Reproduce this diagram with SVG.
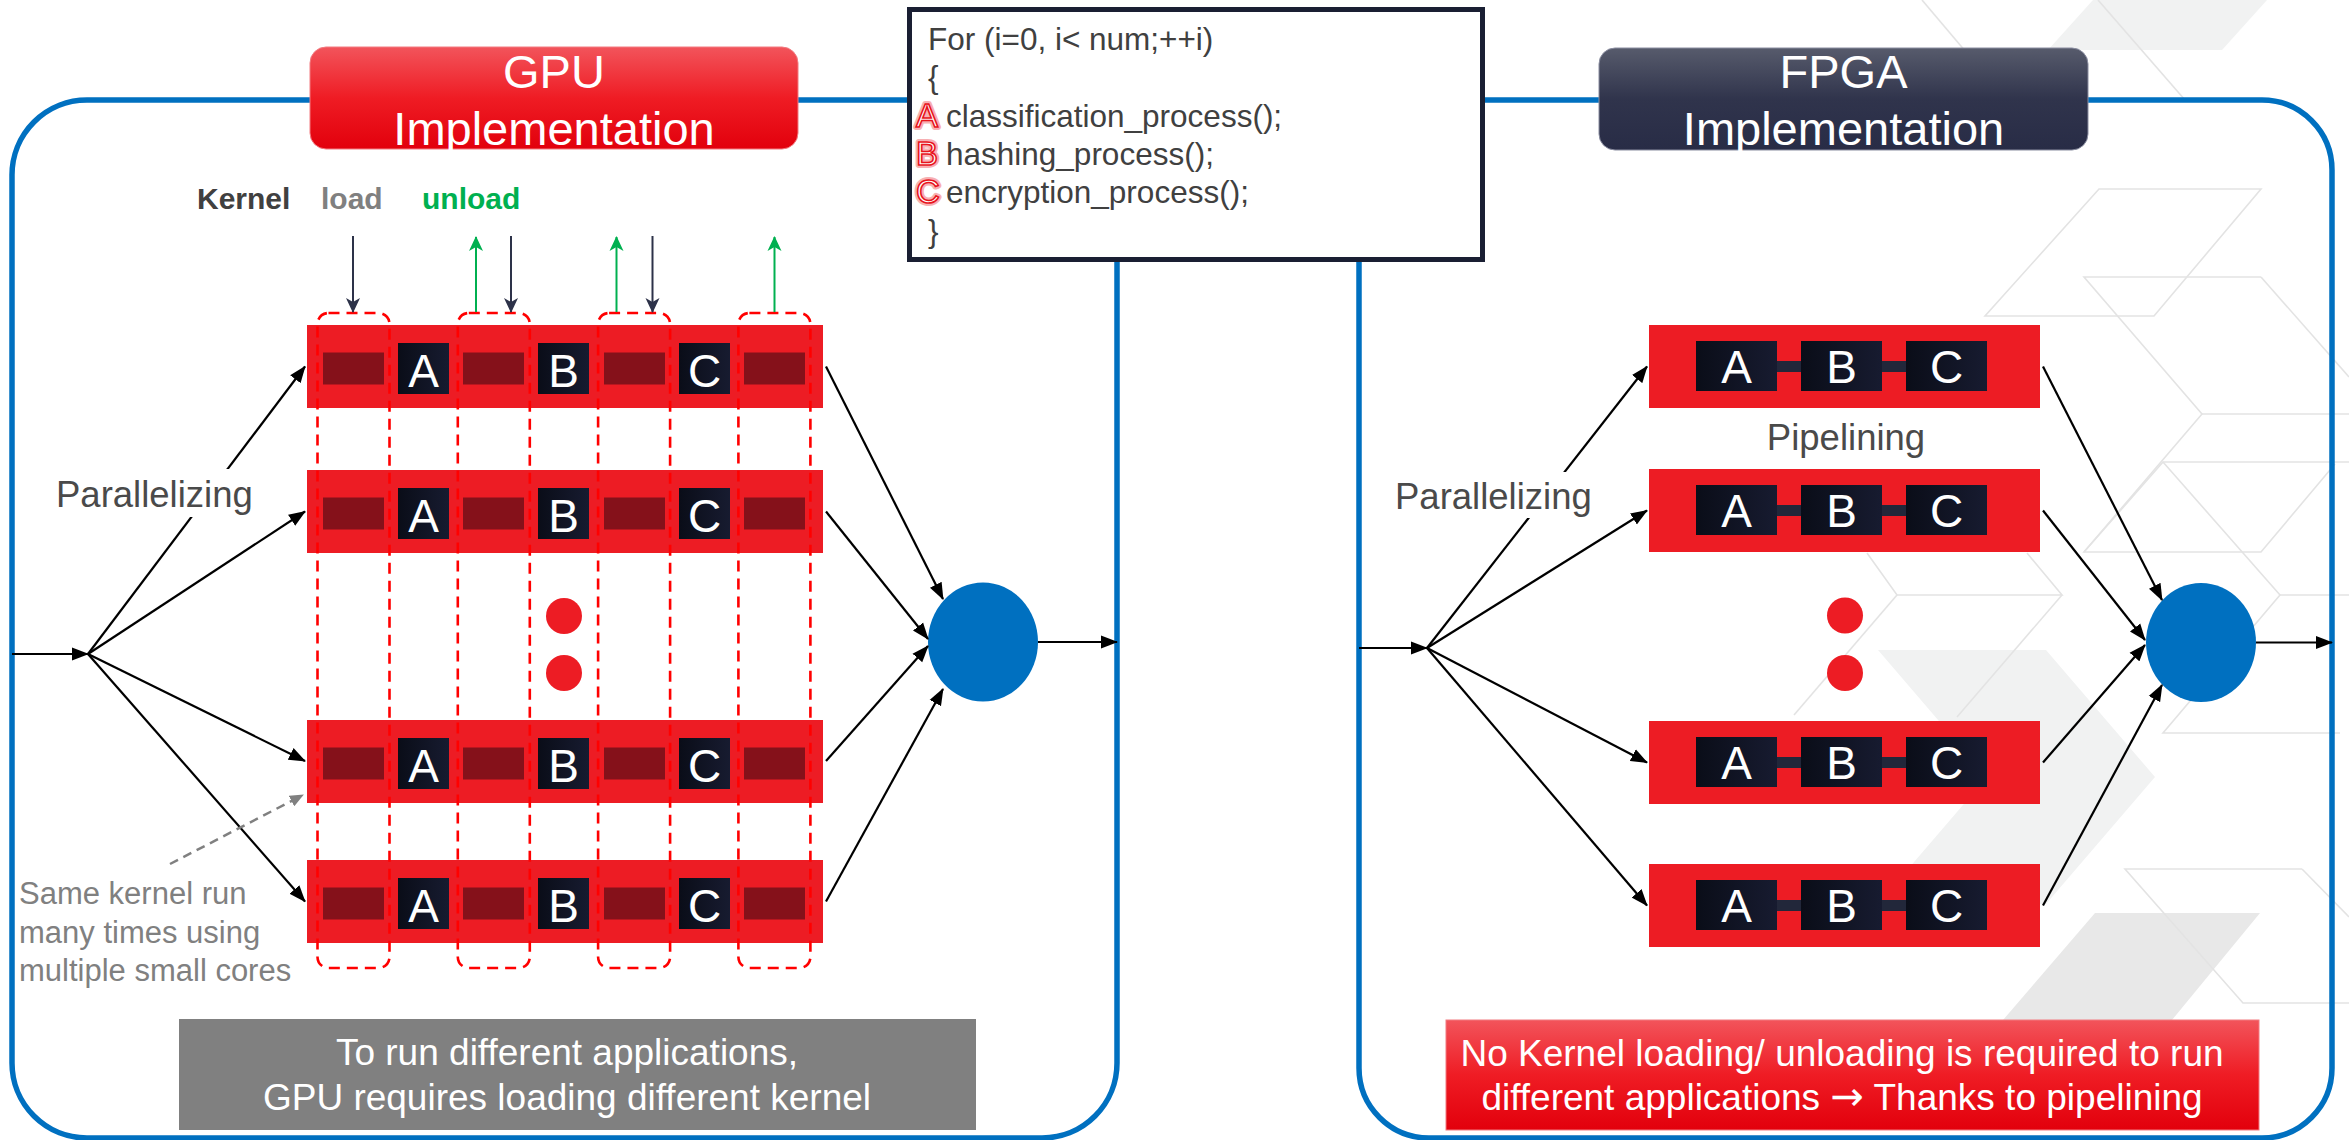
<svg xmlns="http://www.w3.org/2000/svg" width="2349" height="1140" viewBox="0 0 2349 1140">
<defs>
<linearGradient id="gRed" x1="0" y1="0" x2="0" y2="1">
<stop offset="0" stop-color="#f2545b"/>
<stop offset="0.5" stop-color="#ef1c24"/>
<stop offset="1" stop-color="#e2000c"/>
</linearGradient>
<linearGradient id="gDark" x1="0" y1="0" x2="0" y2="1">
<stop offset="0" stop-color="#575b6c"/>
<stop offset="0.5" stop-color="#30344c"/>
<stop offset="1" stop-color="#282c46"/>
</linearGradient>
<linearGradient id="gBox" x1="0" y1="0" x2="1" y2="0">
<stop offset="0" stop-color="#0a0d18"/>
<stop offset="1" stop-color="#171b30"/>
</linearGradient>
<marker id="aBlk" markerUnits="userSpaceOnUse" markerWidth="17" markerHeight="14" viewBox="0 0 17 14" refX="16" refY="7" orient="auto"><path d="M0,0.5 L17,7 L0,13.5 z" fill="#000"/></marker>
<marker id="aNavy" markerUnits="userSpaceOnUse" markerWidth="15" markerHeight="15" viewBox="0 0 15 15" refX="14" refY="7.5" orient="auto"><path d="M0,0.5 L15,7.5 L0,14.5 L4,7.5 z" fill="#2d3249"/></marker>
<marker id="aGrn" markerUnits="userSpaceOnUse" markerWidth="15" markerHeight="15" viewBox="0 0 15 15" refX="14" refY="7.5" orient="auto"><path d="M0,0.5 L15,7.5 L0,14.5 L4,7.5 z" fill="#00b050"/></marker>
<marker id="aGry" markerUnits="userSpaceOnUse" markerWidth="14" markerHeight="12" viewBox="0 0 14 12" refX="13" refY="6" orient="auto"><path d="M0,0 L14,6 L0,12 z" fill="#808080"/></marker>
</defs>
<style>
.t{font-family:"Liberation Sans",Arial,Helvetica,sans-serif}
.bgf{fill:#f1f2f2;stroke:none}
.bgl{fill:none;stroke:#e3e3e3;stroke-width:1.6}
.panel{fill:none;stroke:#0070c0;stroke-width:5.5}
.row{fill:#ed1c24}
.slot{fill:#85111a}
.kbox{fill:url(#gBox)}
.bar{fill:#22273a}
.kl{font-family:"Liberation Sans",Arial,sans-serif;font-size:46px;fill:#fff;text-anchor:middle}
.cap{fill:none;stroke:#ff0000;stroke-width:2.6;stroke-dasharray:11 7}
.ln{stroke:#000;stroke-width:2.2;fill:none;marker-end:url(#aBlk)}
.ttl{font-size:47px;fill:#fff;text-anchor:middle}
.code{font-size:31.5px;fill:#404040}
.abc{font-size:33px;fill:#fff;stroke:#e8141c;stroke-width:1.6}
.abcg{font-size:33px;fill:none;stroke:#f7b0b3;stroke-width:6;stroke-linejoin:round}
.lbl{font-size:36.5px;fill:#4a4a4a}
.note{font-size:31px;fill:#808080}
.btx{font-size:37px;fill:#fff;text-anchor:middle}
.dot{fill:#ed1c24}
.hub{fill:#0070c0}
</style>

<g id="background">
<polygon class="bgf" points="2093,0 2267,0 2222,50 2048,50"/>
<polygon class="bgf" points="1878,650 2046,650 2155,777 2046,904 1878,904 1987,777"/>
<polygon fill="#e8e8e8" points="2095,913 2260,913 2172,1020 2003,1020"/>
<line class="bgl" x1="1922" y1="0" x2="1966" y2="52"/>
<line class="bgl" x1="2098" y1="0" x2="2185" y2="100"/>
<polygon class="bgl" points="2099,189 2261,189 2154,316 1985,316"/>
<polyline class="bgl" points="2261,277 2084,277 2202,414 2084,552 2261,552 2335,464"/>
<line class="bgl" x1="2202" y1="414" x2="2349" y2="414"/>
<line class="bgl" x1="2261" y1="277" x2="2349" y2="377"/>
<polyline class="bgl" points="2349,462 2163,462 2084,552"/>
<polyline class="bgl" points="2163,462 2280,595 2163,733 2340,733"/>
<line class="bgl" x1="2280" y1="595" x2="2349" y2="595"/>
<polyline class="bgl" points="1867,553 1897,595 2062,595 2027,553"/>
<line class="bgl" x1="2062" y1="595" x2="1957" y2="717"/>
<line class="bgl" x1="1897" y1="595" x2="1794" y2="715"/>
<polyline class="bgl" points="2302,869 2125,869 2243,1003 2349,1003"/>
<line class="bgl" x1="2302" y1="869" x2="2349" y2="917"/>
</g>

<g id="panels">
<rect id="gpu-panel" class="panel" x="12" y="100" width="1105" height="1038" rx="75"/>
<rect id="fpga-panel" class="panel" x="1359" y="100" width="973" height="1038" rx="70"/>
</g>

<g id="gpu-title">
<rect x="310" y="47" width="488" height="102" rx="16" fill="url(#gRed)" stroke="#f27a80" stroke-width="1"/>
<text class="t ttl" x="554" y="87.5">GPU</text>
<text class="t ttl" x="554" y="145">Implementation</text>
</g>

<g id="fpga-title">
<rect x="1599" y="48" width="489" height="102" rx="16" fill="url(#gDark)" stroke="#8a8da0" stroke-width="1"/>
<text class="t ttl" x="1843.5" y="88">FPGA</text>
<text class="t ttl" x="1843.5" y="145">Implementation</text>
</g>

<g id="code-box">
<rect x="909.5" y="9.5" width="573" height="250" fill="#fff" stroke="#1a1f33" stroke-width="5"/>
<text class="t code" x="928" y="50">For (i=0, i&lt; num;++i)</text>
<text class="t code" x="928" y="88">{</text>
<text class="t abcg" x="916" y="127">A</text>
<text class="t abc" x="916" y="127">A</text>
<text class="t code" x="946" y="127">classification_process();</text>
<text class="t abcg" x="916" y="165">B</text>
<text class="t abc" x="916" y="165">B</text>
<text class="t code" x="946" y="165">hashing_process();</text>
<text class="t abcg" x="916" y="203">C</text>
<text class="t abc" x="916" y="203">C</text>
<text class="t code" x="946" y="203">encryption_process();</text>
<text class="t code" x="928" y="242">}</text>
</g>

<g id="kernel-legend" class="t" font-size="30" font-weight="bold">
<text x="197" y="209" fill="#404040">Kernel</text>
<text x="321" y="209" fill="#808080">load</text>
<text x="422" y="209" fill="#00b050">unload</text>
</g>

<g id="gpu-row-1" transform="translate(307,325)">
<rect class="row" width="516" height="83"/>
<rect class="slot" x="16" y="27.5" width="61" height="32"/><rect class="slot" x="156" y="27.5" width="61" height="32"/><rect class="slot" x="297" y="27.5" width="61" height="32"/><rect class="slot" x="437" y="27.5" width="61" height="32"/>
<rect class="kbox" x="91" y="18" width="51" height="51"/><rect class="kbox" x="231" y="18" width="51" height="51"/><rect class="kbox" x="372" y="18" width="51" height="51"/>
<text class="kl" x="116.5" y="61.5">A</text><text class="kl" x="256.5" y="61.5">B</text><text class="kl" x="397.5" y="61.5">C</text>
</g>
<g id="gpu-row-2" transform="translate(307,470)">
<rect class="row" width="516" height="83"/>
<rect class="slot" x="16" y="27.5" width="61" height="32"/><rect class="slot" x="156" y="27.5" width="61" height="32"/><rect class="slot" x="297" y="27.5" width="61" height="32"/><rect class="slot" x="437" y="27.5" width="61" height="32"/>
<rect class="kbox" x="91" y="18" width="51" height="51"/><rect class="kbox" x="231" y="18" width="51" height="51"/><rect class="kbox" x="372" y="18" width="51" height="51"/>
<text class="kl" x="116.5" y="61.5">A</text><text class="kl" x="256.5" y="61.5">B</text><text class="kl" x="397.5" y="61.5">C</text>
</g>
<g id="gpu-row-3" transform="translate(307,720)">
<rect class="row" width="516" height="83"/>
<rect class="slot" x="16" y="27.5" width="61" height="32"/><rect class="slot" x="156" y="27.5" width="61" height="32"/><rect class="slot" x="297" y="27.5" width="61" height="32"/><rect class="slot" x="437" y="27.5" width="61" height="32"/>
<rect class="kbox" x="91" y="18" width="51" height="51"/><rect class="kbox" x="231" y="18" width="51" height="51"/><rect class="kbox" x="372" y="18" width="51" height="51"/>
<text class="kl" x="116.5" y="61.5">A</text><text class="kl" x="256.5" y="61.5">B</text><text class="kl" x="397.5" y="61.5">C</text>
</g>
<g id="gpu-row-4" transform="translate(307,860)">
<rect class="row" width="516" height="83"/>
<rect class="slot" x="16" y="27.5" width="61" height="32"/><rect class="slot" x="156" y="27.5" width="61" height="32"/><rect class="slot" x="297" y="27.5" width="61" height="32"/><rect class="slot" x="437" y="27.5" width="61" height="32"/>
<rect class="kbox" x="91" y="18" width="51" height="51"/><rect class="kbox" x="231" y="18" width="51" height="51"/><rect class="kbox" x="372" y="18" width="51" height="51"/>
<text class="kl" x="116.5" y="61.5">A</text><text class="kl" x="256.5" y="61.5">B</text><text class="kl" x="397.5" y="61.5">C</text>
</g>

<g id="kernel-slots">
<rect class="cap" x="317.5" y="313" width="72" height="655" rx="11"/>
<rect class="cap" x="457.8" y="313" width="72" height="655" rx="11"/>
<rect class="cap" x="598.1" y="313" width="72" height="655" rx="11"/>
<rect class="cap" x="738.4" y="313" width="72" height="655" rx="11"/>
</g>

<g id="gpu-dots"><circle class="dot" cx="564" cy="616" r="18"/><circle class="dot" cx="564" cy="673" r="18"/></g>

<g id="fpga-row-1" transform="translate(1649,325)">
<rect class="row" width="391" height="83"/>
<rect class="bar" x="126" y="36" width="28" height="11"/><rect class="bar" x="231" y="36" width="28" height="11"/>
<rect class="kbox" x="47" y="16" width="81" height="50"/><rect class="kbox" x="152" y="16" width="81" height="50"/><rect class="kbox" x="257" y="16" width="81" height="50"/>
<text class="kl" x="87.5" y="58">A</text><text class="kl" x="192.5" y="58">B</text><text class="kl" x="297.5" y="58">C</text>
</g>
<g id="fpga-row-2" transform="translate(1649,469)">
<rect class="row" width="391" height="83"/>
<rect class="bar" x="126" y="36" width="28" height="11"/><rect class="bar" x="231" y="36" width="28" height="11"/>
<rect class="kbox" x="47" y="16" width="81" height="50"/><rect class="kbox" x="152" y="16" width="81" height="50"/><rect class="kbox" x="257" y="16" width="81" height="50"/>
<text class="kl" x="87.5" y="58">A</text><text class="kl" x="192.5" y="58">B</text><text class="kl" x="297.5" y="58">C</text>
</g>
<g id="fpga-row-3" transform="translate(1649,721)">
<rect class="row" width="391" height="83"/>
<rect class="bar" x="126" y="36" width="28" height="11"/><rect class="bar" x="231" y="36" width="28" height="11"/>
<rect class="kbox" x="47" y="16" width="81" height="50"/><rect class="kbox" x="152" y="16" width="81" height="50"/><rect class="kbox" x="257" y="16" width="81" height="50"/>
<text class="kl" x="87.5" y="58">A</text><text class="kl" x="192.5" y="58">B</text><text class="kl" x="297.5" y="58">C</text>
</g>
<g id="fpga-row-4" transform="translate(1649,864)">
<rect class="row" width="391" height="83"/>
<rect class="bar" x="126" y="36" width="28" height="11"/><rect class="bar" x="231" y="36" width="28" height="11"/>
<rect class="kbox" x="47" y="16" width="81" height="50"/><rect class="kbox" x="152" y="16" width="81" height="50"/><rect class="kbox" x="257" y="16" width="81" height="50"/>
<text class="kl" x="87.5" y="58">A</text><text class="kl" x="192.5" y="58">B</text><text class="kl" x="297.5" y="58">C</text>
</g>

<g id="fpga-dots"><circle class="dot" cx="1845" cy="615.5" r="18"/><circle class="dot" cx="1845" cy="673" r="18"/></g>

<g id="gpu-hub"><ellipse class="hub" cx="983" cy="642" rx="55" ry="59.5"/></g>
<g id="fpga-hub"><ellipse class="hub" cx="2201" cy="642.5" rx="55" ry="59.5"/></g>

<g id="connectors">
<line class="ln" x1="12" y1="654" x2="88" y2="654"/>
<line class="ln" x1="88" y1="654" x2="305" y2="366.5"/>
<line class="ln" x1="88" y1="654" x2="305" y2="511.5"/>
<line class="ln" x1="88" y1="654" x2="305" y2="761"/>
<line class="ln" x1="88" y1="654" x2="305" y2="901.5"/>
<line class="ln" x1="826" y1="366.5" x2="943" y2="599"/>
<line class="ln" x1="826" y1="511.5" x2="928" y2="639"/>
<line class="ln" x1="826" y1="761" x2="928" y2="646"/>
<line class="ln" x1="826" y1="901.5" x2="943" y2="689"/>
<line class="ln" x1="1038" y1="642" x2="1117" y2="642"/>
<line class="ln" x1="1359" y1="648" x2="1427" y2="648"/>
<line class="ln" x1="1427" y1="648" x2="1647" y2="366.5"/>
<line class="ln" x1="1427" y1="648" x2="1647" y2="510.5"/>
<line class="ln" x1="1427" y1="648" x2="1647" y2="762.5"/>
<line class="ln" x1="1427" y1="648" x2="1647" y2="905.5"/>
<line class="ln" x1="2043" y1="366.5" x2="2162" y2="600"/>
<line class="ln" x1="2043" y1="510.5" x2="2145" y2="640"/>
<line class="ln" x1="2043" y1="762.5" x2="2145" y2="645"/>
<line class="ln" x1="2043" y1="905.5" x2="2162" y2="685"/>
<line class="ln" x1="2256" y1="642.5" x2="2332" y2="642.5"/>
<g stroke="#2d3249" stroke-width="2" marker-end="url(#aNavy)">
<line x1="353" y1="236" x2="353" y2="312"/>
<line x1="511" y1="236" x2="511" y2="312"/>
<line x1="652.5" y1="236" x2="652.5" y2="312"/>
</g>
<g stroke="#00b050" stroke-width="2" marker-end="url(#aGrn)">
<line x1="476" y1="312" x2="476" y2="237"/>
<line x1="616.5" y1="312" x2="616.5" y2="237"/>
<line x1="774.5" y1="312" x2="774.5" y2="237"/>
</g>
<line x1="170" y1="864" x2="303" y2="795" stroke="#808080" stroke-width="2.5" stroke-dasharray="9 6" marker-end="url(#aGry)"/>
</g>

<g id="labels" class="t">
<rect x="50" y="469" width="206" height="48" fill="#fff"/>
<text class="lbl" x="56" y="507">Parallelizing</text>
<rect x="1389" y="472" width="206" height="46" fill="#fff"/>
<text class="lbl" x="1395" y="509">Parallelizing</text>
<text class="lbl" x="1846" y="450" text-anchor="middle" font-size="36">Pipelining</text>
<text class="note" x="19" y="904">Same kernel run</text>
<text class="note" x="19" y="943">many times using</text>
<text class="note" x="19" y="981">multiple small cores</text>
</g>

<g id="gpu-note">
<rect x="179" y="1019" width="797" height="111" fill="#808080"/>
<text class="t btx" x="567" y="1065">To run different applications,</text>
<text class="t btx" x="567" y="1110">GPU requires loading different kernel</text>
</g>

<g id="fpga-note">
<rect x="1446" y="1020" width="813" height="110" fill="url(#gRed)" stroke="#f27a80" stroke-width="1"/>
<text class="t btx" x="1842" y="1066">No Kernel loading/ unloading is required to run</text>
<text class="t btx" x="1842" y="1110">different applications <tspan font-family="'DejaVu Sans',sans-serif" font-size="40">→</tspan> Thanks to pipelining</text>
</g>
</svg>
